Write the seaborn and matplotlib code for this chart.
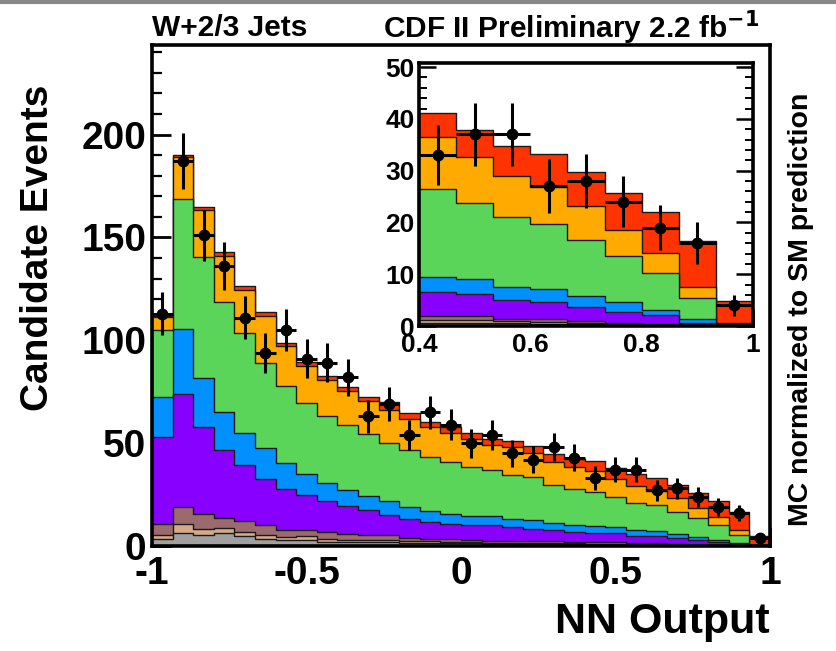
import numpy as np
import pandas as pd
import matplotlib
matplotlib.use("Agg")
import matplotlib.pyplot as plt
import seaborn as sns
from matplotlib.ticker import MultipleLocator
from matplotlib.lines import Line2D

# ---------------- data ----------------
n_bins = 30
x_lo, x_hi = -1.0, 1.0

# cumulative stack heights (top edge of each coloured layer), 30 bins of NN output
top_red = [112.0, 190.2, 164.7, 142.7, 126.4, 113.9, 98.8, 89.3, 82.8, 77.4,
           72.5, 70.1, 64.5, 60.4, 57.9, 55.0, 51.8, 51.1, 48.5, 44.6,
           42.1, 41.1, 37.8, 34.8, 33.2, 29.7, 25.6, 22.1, 16.5, 4.9]
top_orange = [111.5, 189.0, 163.4, 141.0, 124.5, 112.0, 97.2, 87.5, 80.7, 75.5,
              70.6, 66.1, 61.5, 57.9, 54.7, 51.8, 49.0, 48.2, 45.3, 40.9,
              38.2, 36.5, 32.6, 29.0, 26.9, 23.1, 18.6, 14.1, 7.6, 0.6]
top_green = [105.0, 168.8, 140.7, 118.8, 103.4, 89.1, 77.9, 69.6, 63.1, 58.8,
             54.4, 50.1, 46.6, 43.3, 40.6, 38.5, 36.9, 34.4, 33.3, 29.6,
             27.5, 26.4, 23.8, 21.1, 19.7, 16.7, 13.6, 10.3, 5.5, 0.35]
top_blue = [72.5, 105.5, 81.8, 64.9, 54.7, 47.4, 40.1, 35.2, 30.7, 27.1,
            24.2, 21.9, 19.0, 17.0, 15.5, 14.8, 14.5, 13.3, 12.5, 11.2,
            10.1, 9.5, 9.0, 7.6, 7.1, 5.7, 4.6, 3.0, 1.4, 0.12]
top_purple = [53.0, 73.9, 57.9, 46.9, 39.6, 32.8, 27.6, 25.0, 21.9, 19.3,
              17.4, 14.9, 13.3, 11.7, 10.6, 10.3, 10.1, 9.3, 8.5, 7.6,
              6.8, 6.5, 6.2, 5.0, 4.7, 3.7, 2.8, 2.1, 0.6, 0.06]
top_brown = [10.6, 19.0, 15.4, 13.6, 12.3, 10.1, 8.0, 7.6, 6.8, 5.7,
             5.2, 5.2, 4.1, 3.6, 3.6, 3.1, 2.4, 2.4, 2.4, 2.4,
             1.9, 1.9, 1.9, 1.4, 1.4, 1.0, 0.6, 0.3, 0.1, 0.02]
top_tan = [5.5, 10.6, 8.3, 8.7, 6.6, 5.2, 4.3, 4.7, 3.6, 3.1,
           3.0, 3.0, 2.5, 2.2, 2.0, 2.0, 1.6, 1.6, 1.5, 1.5,
           1.3, 1.2, 1.1, 0.9, 0.8, 0.6, 0.4, 0.2, 0.05, 0.01]
top_gray = [3.3, 6.3, 5.5, 6.3, 4.8, 3.6, 3.0, 3.1, 1.9, 1.9,
            1.9, 1.9, 1.5, 1.5, 1.4, 1.3, 1.2, 1.2, 1.1, 1.0,
            0.9, 0.6, 0.6, 0.5, 0.4, 0.3, 0.2, 0.1, 0.02, 0.0]

data_counts = [113, 187, 151, 136, 111, 94, 105, 91, 89, 82,
               63, 69, 54, 65, 59, 50, 54, 45, 42, 48,
               43, 33, 37, 37, 27, 28, 24, 19, 16, 4]

layer_tops = [top_red, top_orange, top_green, top_blue, top_purple,
              top_brown, top_tan, top_gray]
layer_colors = ["#FF3300", "#FFAA00", "#5AD55A", "#0090FF", "#8800FF",
                "#9A6A6E", "#D4AA88", "#A0A0A0"]

# ---------------- figure ----------------
sns.set_style("white")
plt.rcParams["font.family"] = ["Liberation Sans", "DejaVu Sans"]
plt.rcParams["font.weight"] = "bold"
for key in ("text.color", "axes.labelcolor", "xtick.color", "ytick.color",
            "axes.edgecolor"):
    plt.rcParams[key] = "black"

edges = np.linspace(x_lo, x_hi, n_bins + 1)
centers = 0.5 * (edges[:-1] + edges[1:])
half_w = 0.5 * (edges[1] - edges[0])
data_arr = np.array(data_counts, dtype=float)
err = np.sqrt(data_arr)
bin_list = [float(e) for e in edges]

W, H = 837, 651
fig = plt.figure(figsize=(W / 100, H / 100), dpi=100)
fig.patch.set_facecolor("white")


def draw_stack(ax):
    for tops, col in zip(layer_tops, layer_colors):
        df = pd.DataFrame({"nn": centers, "w": tops})
        sns.histplot(data=df, x="nn", weights="w", bins=bin_list,
                     element="step", fill=True, color=col, alpha=1.0,
                     edgecolor="#1a1a1a", linewidth=1.0, ax=ax)


def style_axis(ax):
    for sp in ax.spines.values():
        sp.set_linewidth(2.6)
        sp.set_color("black")
        sp.set_visible(True)
    ax.set_xlabel("")
    ax.set_ylabel("")


# main axes
ax = fig.add_axes([152 / W, 1 - 546 / H, (770 - 152) / W, (546 - 45) / H])
draw_stack(ax)
ax.errorbar(centers, data_arr, yerr=err, xerr=half_w, fmt="o", color="black",
            ms=7.5, elinewidth=2.2, capsize=0, zorder=10)
ax.set_xlim(x_lo, x_hi)
ax.set_ylim(0, 243.5)
style_axis(ax)
ax.xaxis.set_major_locator(MultipleLocator(0.5))
ax.xaxis.set_minor_locator(MultipleLocator(0.1))
ax.yaxis.set_major_locator(MultipleLocator(50))
ax.yaxis.set_minor_locator(MultipleLocator(10))
ax.tick_params(which="major", direction="in", length=14, width=2,
               labelsize=28, pad=7, left=True, bottom=True, top=False, right=False)
ax.tick_params(axis="y", which="major", pad=4)
ax.tick_params(which="minor", direction="in", length=7, width=1.6,
               left=True, bottom=True, top=False, right=False)
ax.set_xticks([-1, -0.5, 0, 0.5, 1])
ax.set_xticklabels(["-1", "-0.5", "0", "0.5", "1"])
for lab in ax.get_xticklabels() + ax.get_yticklabels():
    lab.set_fontweight("bold")
    lab.set_color("black")

# inset axes
ax_in = fig.add_axes([419 / W, 1 - 326 / H, (753 - 419) / W, (326 - 63) / H])
ax_in.set_facecolor("white")
draw_stack(ax_in)
sel = centers > 0.4
ax_in.errorbar(centers[sel], data_arr[sel], yerr=err[sel], xerr=half_w,
               fmt="o", color="black", ms=7.5, elinewidth=2.2, capsize=0, zorder=10)
ax_in.set_xlim(0.4, 1.0)
ax_in.set_ylim(0, 50.8)
style_axis(ax_in)
ax_in.xaxis.set_major_locator(MultipleLocator(0.2))
ax_in.xaxis.set_minor_locator(MultipleLocator(0.05))
ax_in.yaxis.set_major_locator(MultipleLocator(10))
ax_in.yaxis.set_minor_locator(MultipleLocator(2))
ax_in.tick_params(which="major", direction="in", length=12, width=1.8,
                  labelsize=19, pad=3, left=True, right=True, bottom=True, top=False)
ax_in.tick_params(axis="x", which="major", pad=5)
ax_in.tick_params(which="minor", direction="in", length=6, width=1.4,
                  left=True, right=True, bottom=True, top=False)
ax_in.set_xticks([0.4, 0.6, 0.8, 1.0])
ax_in.set_xticklabels(["0.4", "0.6", "0.8", "1"])
for lab in ax_in.get_xticklabels() + ax_in.get_yticklabels():
    lab.set_fontweight("bold")
    lab.set_color("black")

# texts
fig.text(38 / W, 1 - 248 / H, "Candidate Events", rotation=90, ha="center",
         va="center", fontsize=28, fontweight="bold", color="black")
fig.text(770 / W, 1 - 622 / H, "NN Output", ha="right", va="center",
         fontsize=31, fontweight="bold", color="black")
fig.text(801 / W, 1 - 309 / H, "MC normalized to SM prediction", rotation=90,
         ha="center", va="center", fontsize=20.5, fontweight="bold", color="black")
fig.text(152 / W, 1 - 28 / H, "W+2/3 Jets", ha="left", va="center",
         fontsize=21.5, fontweight="bold", color="black")
fig.text(383 / W, 1 - 28 / H, r"CDF II Preliminary 2.2 fb$^{\mathbf{-1}}$",
         ha="left", va="center", fontsize=21.5, fontweight="bold", color="black")

fig.add_artist(Line2D([0, 1], [1 - 1.5 / H, 1 - 1.5 / H], color="#888888",
                      lw=3, transform=fig.transFigure))

fig.savefig("out.png", dpi=100, facecolor="white")
